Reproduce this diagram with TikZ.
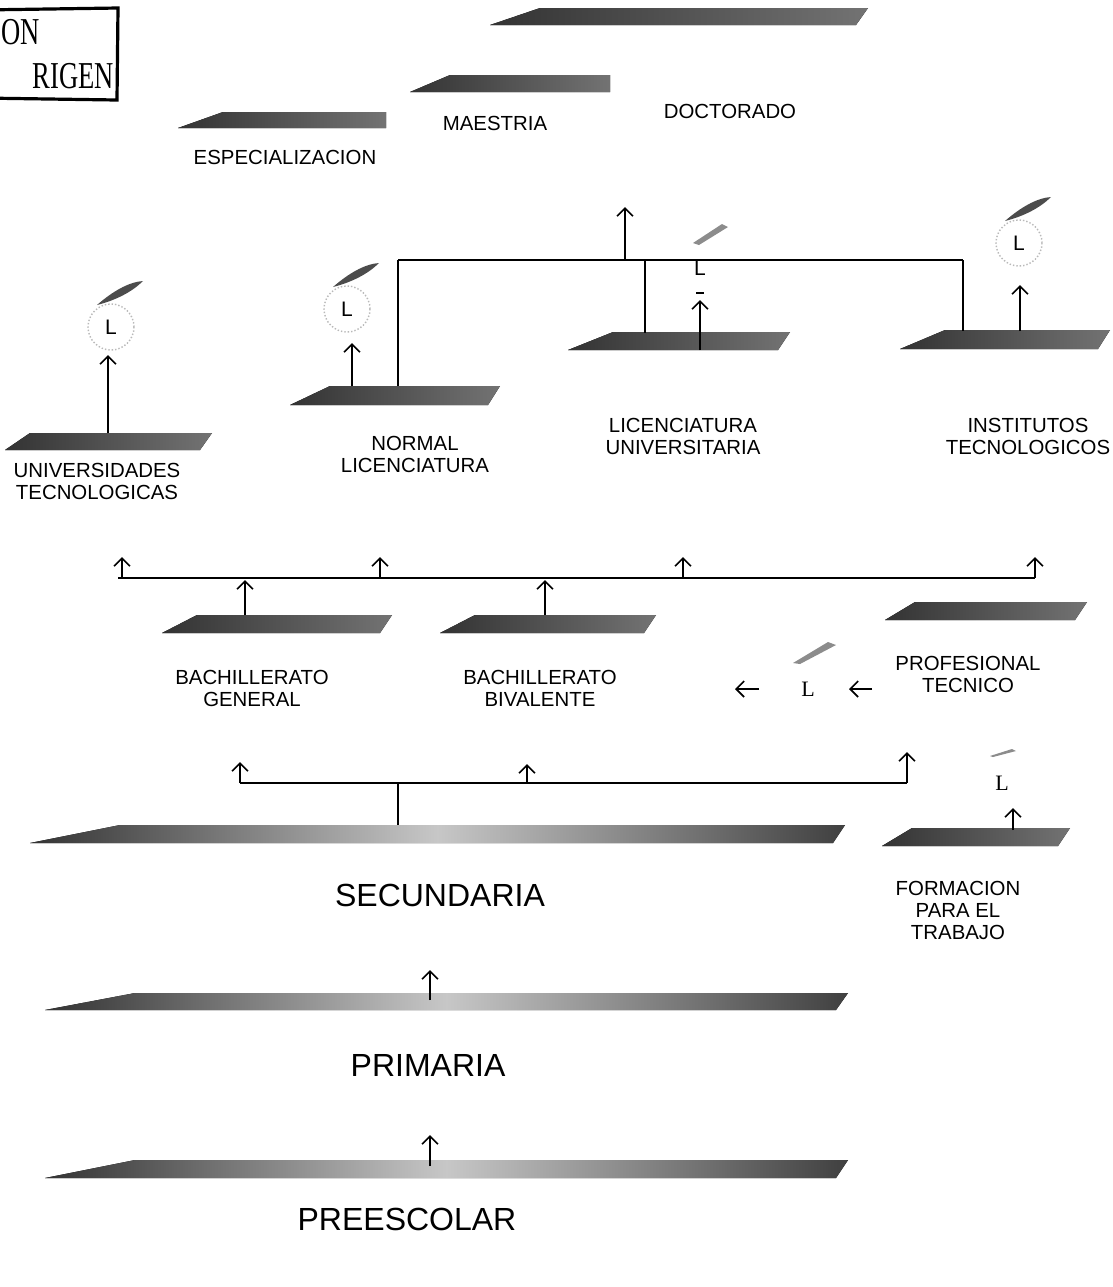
\documentclass[tikz,border=0pt]{standalone}
\usepackage{fontspec}
\setmainfont{Liberation Sans}
\newfontfamily\serifL{Liberation Serif}
\usetikzlibrary{arrows.meta}

% slab: grainy platform drawn as a slanted band
% #1 style, #2 left tip x, #3 right top x, #4 top y, #5 bottom y, #6 taper, #7 slant
\newcommand\slabband[7]{%
  \fill[#1] (#2,#5) -- (#3-#7,#5) -- (#3,#4) -- (#2+#6,#4) -- cycle;}

% marker "L" inside a dotted ring with a dark streak
\newcommand\lring[3]{%
  \draw[gray!55, densely dotted, line width=0.7pt] (#2,#3) circle[radius=23];
  \fill[black!70] (#2-14,#3-22) .. controls (#2+2,#3-36) and (#2+18,#3-45) .. (#2+32,#3-46)
     .. controls (#2+22,#3-36) and (#2+6,#3-27) .. cycle;
  \node[lmk] (#1) at (#2,#3) {L};}

\begin{document}
\begin{tikzpicture}[x=0.5pt,y=-0.5pt,
  slab/.style={left color=black!80, right color=black!55},
  bigslab/.style={left color=black!80, right color=black!75, middle color=black!22},
  lbl/.style={font=\fontsize{10.2}{11}\selectfont, align=center, inner sep=0pt},
  biglbl/.style={font=\fontsize{16}{19}\selectfont, inner sep=0pt},
  lmk/.style={font=\fontsize{10.5}{12}\selectfont, inner sep=0pt},
  sermk/.style={font=\serifL\fontsize{11}{12}\selectfont, inner sep=0pt},
  stamptxt/.style={font=\serifL\fontsize{19}{19}\selectfont, xscale=0.7, inner sep=0pt},
  link/.style={line width=0.8pt},
  up/.style={line width=0.8pt, -{Straight Barb[length=4pt,width=8pt,line width=0.8pt]}},
  streak/.style={black!45}]

\fill[white] (0,0) rectangle (1113,1287);
\useasboundingbox (0,0) rectangle (1113,1287);

% stamp in the corner
\begin{scope}
  \clip (0,0) rectangle (200,120);
  \draw[line width=1.6pt] (-20,10) -- (118,8) -- (117,100) -- (-20,98);
  \node[stamptxt, anchor=base west] (stampa) at (1,44) {ON};
  \node[stamptxt, anchor=base east] (stampb) at (114,88) {RIGEN};
\end{scope}

% postgraduate level
\slabband{slab}{490}{868}{8}{25}{50}{12}
\slabband{slab}{410}{610}{75}{92}{40}{0}
\slabband{slab}{178}{386}{112}{128}{45}{0}
\node[lbl] (mae) at (495,123) {MAESTRIA};
\node[lbl] (doc) at (730,111) {DOCTORADO};
\node[lbl] (esp) at (285,157) {ESPECIALIZACION};

% higher education platforms
\slabband{slab}{290}{500}{386}{405}{40}{12}
\slabband{slab}{568}{790}{332}{350}{45}{12}
\slabband{slab}{900}{1110}{330}{349}{45}{12}
\slabband{slab}{5}{212}{433}{450}{25}{12}
\node[lbl] (nor) at (415,454) {NORMAL\\LICENCIATURA};
\node[lbl] (lic) at (683,436) {LICENCIATURA\\UNIVERSITARIA};
\node[lbl] (ins) at (1028,436) {INSTITUTOS\\TECNOLOGICOS};
\node[lbl] (uni) at (97,481) {UNIVERSIDADES\\TECNOLOGICAS};

% L markers
\lring{lnor}{347}{309}
\lring{lins}{1019}{243}
\lring{luni}{111}{327}
\node[lmk] (llic) at (700,268) {L};
\fill[streak] (693,243) -- (722,224) -- (728,227) -- (699,245) -- cycle;
\draw[line width=0.6pt] (696,293) -- (704,293);

% links to the postgraduate level
\coordinate (tb1) at (398,260);
\coordinate (tb2) at (963,260);
\coordinate (tbm) at (625,260);
\coordinate (tbl) at (645,260);
\coordinate (docin) at (625,207);
\draw[link] (tb1) -- (tb2);
\draw[up] (tbm) -- (docin);
\draw[link] (tb1) -- (398,386);
\draw[link] (tbl) -- (645,333);
\draw[link] (tb2) -- (963,331);

% platform to L arrows
\coordinate (nbase) at (352,386);
\coordinate (lbase) at (700,350);
\coordinate (ibase) at (1020,331);
\coordinate (ubase) at (108,433);
\draw[up] (nbase) -- (352,343);
\draw[up] (lbase) -- (700,300);
\draw[up] (ibase) -- (1020,285);
\draw[up] (ubase) -- (108,355);

% upper secondary bus
\coordinate (mb1) at (118,578);
\coordinate (mb2) at (1035,578);
\draw[link] (mb1) -- (mb2);
\foreach \xx in {122,380,683,1035} \draw[up] (\xx,578) -- (\xx,557);

% upper secondary platforms
\slabband{slab}{162}{392}{615}{633}{35}{12}
\slabband{slab}{440}{656}{615}{633}{35}{12}
\slabband{slab}{885}{1087}{602}{620}{30}{12}
\draw[up] (245,615) -- (245,580);
\draw[up] (545,615) -- (545,580);
\node[lbl] (bge) at (252,688) {BACHILLERATO\\GENERAL};
\node[lbl] (bbi) at (540,688) {BACHILLERATO\\BIVALENTE};
\node[lbl] (pro) at (968,674) {PROFESIONAL\\TECNICO};

% L between technical and bivalent
\node[sermk] (lpro) at (808,689) {L};
\fill[streak] (793,663) -- (828,642) -- (836,645) -- (800,664) -- cycle;
\draw[up] (872,689) -- (849,689);
\draw[up] (759,689) -- (735,689);

% lower secondary bus
\coordinate (lb1) at (240,783);
\coordinate (lb2) at (907,783);
\coordinate (lbs) at (398,783);
\draw[link] (lb1) -- (lb2);
\draw[link] (lbs) -- (398,826);
\draw[up] (lb1) -- (240,762);
\draw[up] (527,783) -- (527,764);
\draw[up] (lb2) -- (907,752);

% job training
\slabband{slab}{882}{1070}{828}{846}{30}{12}
\node[sermk] (lfor) at (1002,783) {L};
\fill[streak] (990,756) -- (1012,749) -- (1016,751) -- (993,757) -- cycle;
\draw[up] (1013,830) -- (1013,808);
\node[lbl] (for) at (958,910) {FORMACION\\PARA EL\\TRABAJO};

% basic education
\slabband{bigslab}{30}{845}{825}{843}{90}{12}
\slabband{bigslab}{45}{848}{993}{1010}{90}{12}
\slabband{bigslab}{45}{848}{1160}{1178}{90}{12}
\node[biglbl] (sec) at (440,895) {SECUNDARIA};
\node[biglbl] (pri) at (428,1065) {PRIMARIA};
\node[biglbl] (pre) at (407,1219) {PREESCOLAR};
\draw[up] (430,1000) -- (430,970);
\draw[up] (430,1166) -- (430,1135);

\end{tikzpicture}
\end{document}
